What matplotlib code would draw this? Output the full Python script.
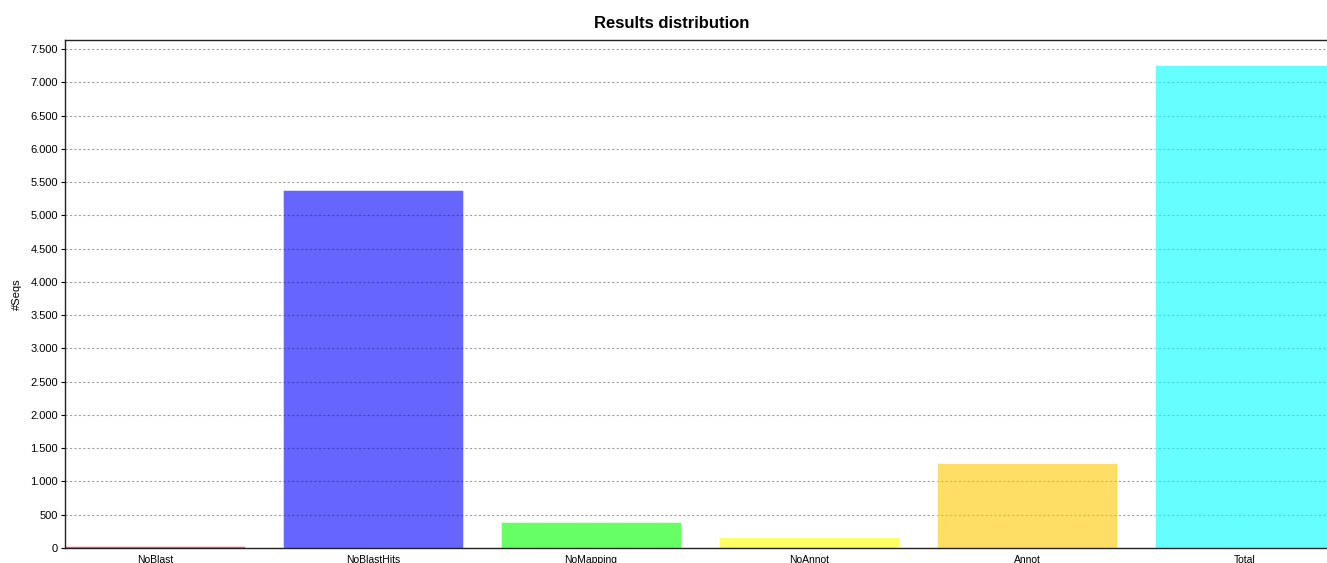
import matplotlib.pyplot as plt
from matplotlib.ticker import FuncFormatter

categories = ['NoBlast', 'NoBlastHits', 'NoMapping', 'NoAnnot', 'Annot', 'Total']
counts = [25, 5387, 390, 165, 1273, 7262]
colors = ['#FF0000', '#0000FF', '#00FF00', '#FFFF00', '#FFC800', '#00FFFF']

plt.rcParams['font.family'] = ['Liberation Sans', 'DejaVu Sans']

fig = plt.figure(figsize=(13.27, 5.63), dpi=100)
# plot area runs a little past the right edge of the picture, as in the original
ax = fig.add_axes([65 / 1327, 15 / 563, 1270 / 1327, 508 / 563])

x = list(range(len(categories)))
ax.bar(x, counts, width=0.826, color=colors, alpha=0.6, zorder=2,
       edgecolor='white', linewidth=0.6)

ax.set_xlim(-0.413, len(categories) - 1 + 0.413)
ax.set_ylim(0, 7635)
ax.set_yticks(range(0, 7501, 500))
ax.yaxis.set_major_formatter(FuncFormatter(lambda v, p: f'{int(v):,}'.replace(',', '.')))
ax.grid(axis='y', color='#a0a0a0', linestyle=(0, (2, 2)), linewidth=0.8, zorder=1)
ax.set_axisbelow(True)

ax.set_xticks(x)
ax.set_xticklabels(categories, fontsize=7.5)
ax.tick_params(axis='x', length=0, pad=5)
ax.tick_params(axis='y', labelsize=8, length=3, width=0.8, pad=2)

for s in ax.spines.values():
    s.set_linewidth(1.0)
    s.set_color('#222222')

ax.set_ylabel('#Seqs', fontsize=8, labelpad=6)
fig.text(672 / 1327, 1 - 23 / 563, 'Results distribution', ha='center', va='center',
         fontsize=12, fontweight='bold')

fig.savefig('out.png', dpi=100)
